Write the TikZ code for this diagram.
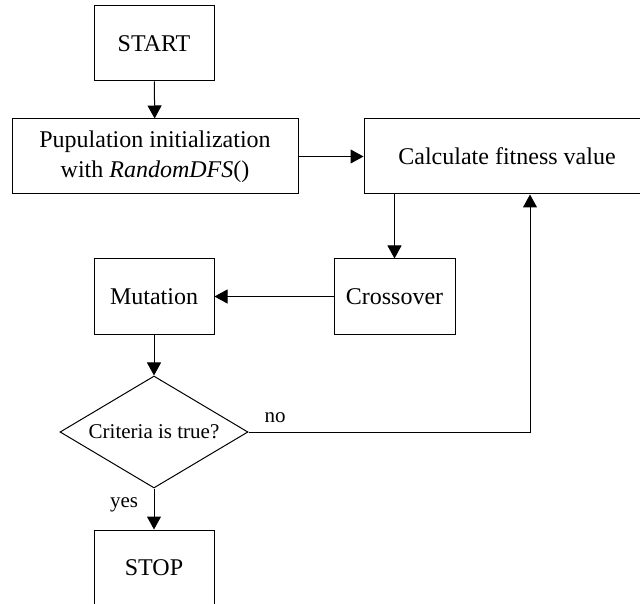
\documentclass[tikz,border=0pt]{standalone}
\usepackage{fontspec}
\setmainfont{Liberation Serif}
\usetikzlibrary{arrows.meta, positioning, shapes.geometric}

\begin{document}
\begin{tikzpicture}[
    x=1pt, y=-1pt,
    block/.style={draw, rectangle, line width=1pt, minimum height=75pt, align=center, inner sep=0pt, font=\fontsize{24}{30}\selectfont},
    decision/.style={draw, diamond, line width=1pt, minimum width=188pt, minimum height=112pt, aspect=1.68, inner sep=0pt, font=\fontsize{21}{25}\selectfont},
    lbl/.style={inner sep=0pt, font=\fontsize{21}{25}\selectfont},
    arrow/.style={-{Triangle[length=13pt, width=14pt]}, line width=1pt}
]
\clip (0,0) rectangle (640,604);

% Start
\node[block, minimum width=120pt] (start) at (154,43.5) {START};

% Initial population
\node[block, minimum width=286pt] (init) at (155,156.5) {Pupulation initialization\\with \textit{RandomDFS}()};

% Fitness
\node[block, minimum width=286pt] (fit) at (507,156.5) {Calculate fitness value};

% Crossover and mutation
\node[block, minimum width=121pt] (cross) at (394.5,296.5) {Crossover};
\node[block, minimum width=120pt] (mut) at (154,296.5) {Mutation};

% Stop criterion
\node[decision] (crit) at (154,432) {Criteria is true?};

% Stop
\node[block, minimum width=120pt] (stop) at (154,567.5) {STOP};

% Labels
\node[lbl] (no) at (275,418) {no};
\node[lbl] (yes) at (124,505) {yes};

% Arrows
\draw[arrow] (start) -- (init);
\draw[arrow] (init) -- (fit);
\draw[arrow] (fit.south -| cross.north) -- (cross);
\draw[arrow] (cross) -- (mut);
\draw[arrow] (mut) -- (crit);
\draw[arrow] (crit) -- (stop);

% Loop back to fitness
\draw[arrow] (crit.east) -| ([xshift=23pt]fit.south);

\end{tikzpicture}
\end{document}
